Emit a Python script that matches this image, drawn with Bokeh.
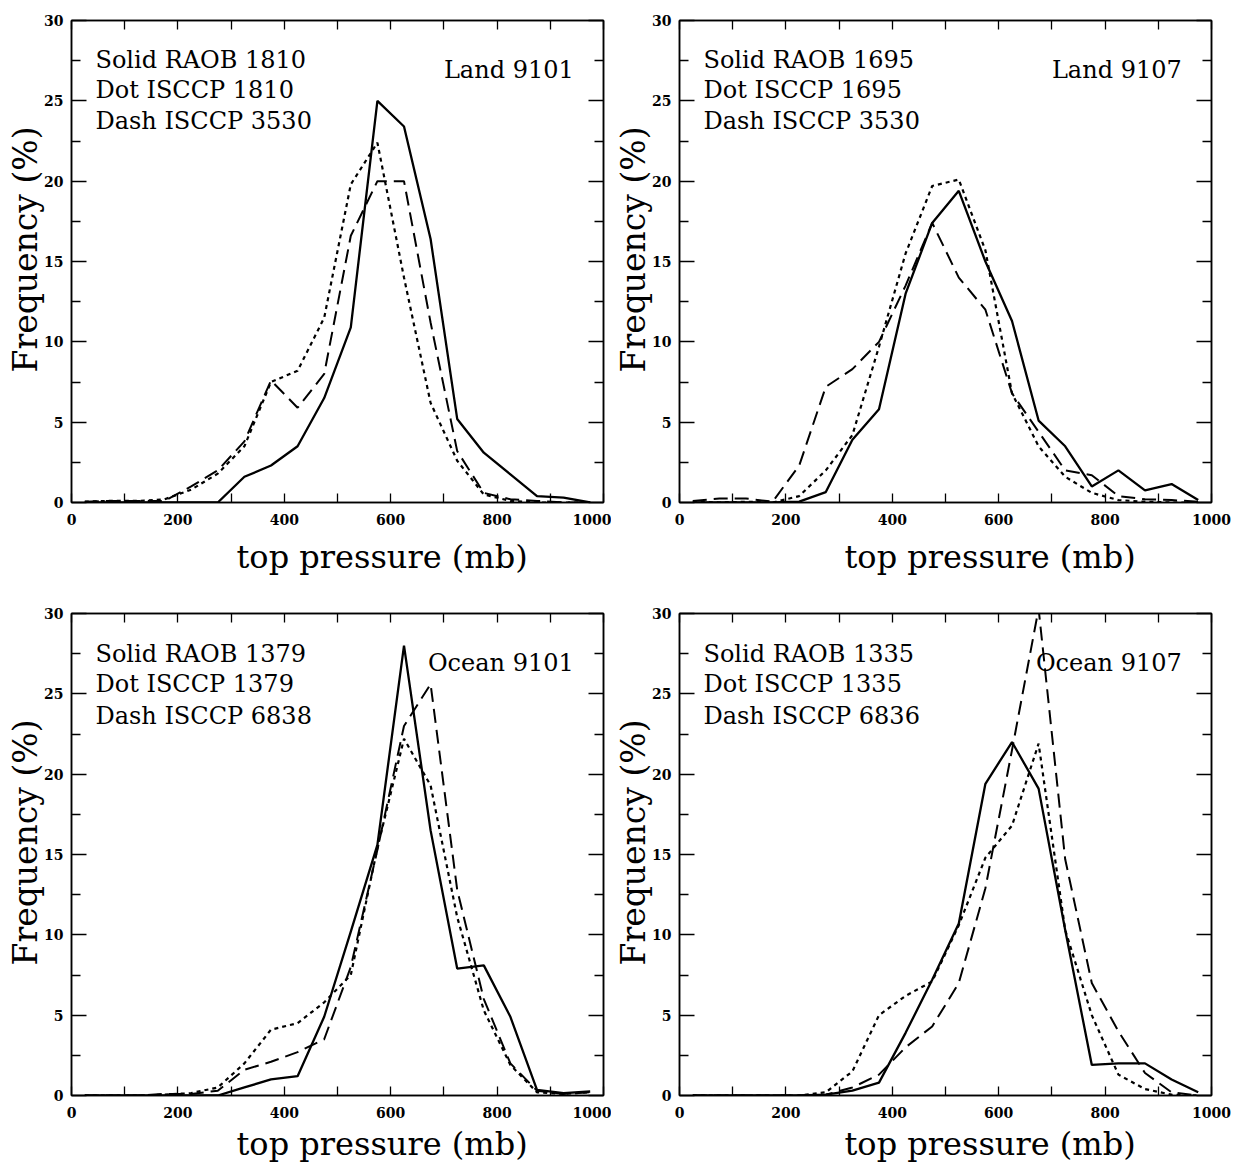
from bokeh.plotting import figure
from bokeh.layouts import column, row
from bokeh.models import LinearAxis, FixedTicker, Label, Range1d, Title
from bokeh.embed import file_html
from bokeh.resources import INLINE

# ---------------- data ----------------
pressure = [25, 75, 125, 175, 225, 275, 325, 375, 425, 475,
            525, 575, 625, 675, 725, 775, 825, 875, 925, 975]

x_ticks = [0, 100, 200, 300, 400, 500, 600, 700, 800, 900, 1000]
x_tick_labels = ["0", "", "200", "", "400", "", "600", "", "800", "", "1000"]
y_major = [0, 5, 10, 15, 20, 25, 30]
y_minor = [2.5, 7.5, 12.5, 17.5, 22.5, 27.5]

# Land 9101
land9101_raob = [0, 0, 0, 0, 0, 0, 1.6, 2.3, 3.5, 6.5, 10.9, 25.0, 23.4, 16.4, 5.2, 3.1, 1.75, 0.4, 0.3, 0.0]
land9101_isccp = [0.05, 0.1, 0.1, 0.2, 0.8, 1.8, 3.5, 7.5, 8.2, 11.5, 19.8, 22.4, 14.0, 6.2, 2.6, 0.5, 0.1, 0.0, 0.0, 0.0]
land9101_all = [0.05, 0.1, 0.1, 0.1, 1.0, 2.0, 3.8, 7.6, 5.9, 8.0, 16.6, 20.0, 20.0, 11.2, 3.2, 0.6, 0.2, 0.1, 0.0, 0.0]

# Land 9107
land9107_raob = [0, 0, 0, 0, 0.05, 0.65, 3.9, 5.8, 13.0, 17.4, 19.4, 15.0, 11.3, 5.1, 3.5, 1.0, 2.0, 0.75, 1.15, 0.15]
land9107_isccp = [0.05, 0.0, 0.05, 0.0, 0.4, 2.0, 4.2, 9.7, 15.5, 19.7, 20.1, 15.7, 6.8, 3.5, 1.6, 0.6, 0.15, 0.05, 0.0, 0.0]
land9107_all = [0.1, 0.25, 0.25, 0.05, 2.3, 7.2, 8.3, 10.0, 13.5, 17.4, 14.0, 12.0, 6.8, 4.4, 2.0, 1.7, 0.4, 0.2, 0.15, 0.05]

# Ocean 9101
ocean9101_raob = [0, 0, 0, 0, 0, 0, 0.5, 1.0, 1.2, 4.9, 10.2, 15.6, 28.0, 16.5, 7.9, 8.1, 4.9, 0.35, 0.15, 0.25]
ocean9101_isccp = [0, 0, 0, 0.05, 0.15, 0.5, 2.0, 4.1, 4.5, 5.8, 7.5, 15.4, 22.2, 19.3, 11.1, 5.3, 1.9, 0.2, 0.1, 0.2]
ocean9101_all = [0, 0, 0, 0.1, 0.1, 0.3, 1.6, 2.1, 2.7, 3.5, 8.0, 15.3, 23.0, 25.6, 12.8, 6.0, 2.0, 0.3, 0.1, 0.2]

# Ocean 9107
ocean9107_raob = [0, 0, 0, 0, 0, 0.05, 0.3, 0.8, 3.9, 7.2, 10.7, 19.4, 22.0, 19.1, 10.3, 1.9, 2.0, 2.0, 1.0, 0.2]
ocean9107_isccp = [0, 0, 0, 0, 0, 0.2, 1.5, 5.0, 6.2, 7.1, 10.6, 14.8, 16.8, 21.9, 10.3, 5.0, 1.3, 0.4, 0.05, 0]
ocean9107_all = [0, 0, 0, 0, 0, 0.05, 0.5, 1.3, 3.0, 4.3, 7.0, 12.9, 21.5, 30.3, 14.7, 7.0, 4.0, 1.4, 0.2, 0.0]

land9101_text = ["Solid RAOB 1810", "Dot ISCCP 1810", "Dash ISCCP 3530"]
land9107_text = ["Solid RAOB 1695", "Dot ISCCP 1695", "Dash ISCCP 3530"]
ocean9101_text = ["Solid RAOB 1379", "Dot ISCCP 1379", "Dash ISCCP 6838"]
ocean9107_text = ["Solid RAOB 1335", "Dot ISCCP 1335", "Dash ISCCP 6836"]
region_titles = ["Land 9101", "Land 9107", "Ocean 9101", "Ocean 9107"]

x_title = "top pressure (mb)"
y_title = "Frequency (%)"

SERIF = "DejaVu Serif"


def style_axis(ax, ticks, minor, tick_len, minor_len, show_labels, overrides=None):
    ax.ticker = FixedTicker(ticks=ticks, minor_ticks=minor)
    ax.major_tick_in = tick_len
    ax.major_tick_out = 0
    ax.minor_tick_in = minor_len
    ax.minor_tick_out = 0
    ax.major_tick_line_color = "black"
    ax.minor_tick_line_color = "black"
    ax.major_tick_line_width = 1.3
    ax.minor_tick_line_width = 1.3
    ax.axis_line_color = "black"
    ax.axis_line_width = 1.5
    if show_labels:
        ax.major_label_text_font = SERIF
        ax.major_label_text_font_style = "bold"
        ax.major_label_text_font_size = "14px"
        ax.major_label_text_color = "black"
        if overrides:
            ax.major_label_overrides = overrides
    else:
        ax.major_label_text_font_size = "1px"
        ax.major_label_text_color = None
        ax.major_label_standoff = 0


def make_panel(raob, isccp, allc, texts, region, left_col, top_row):
    p = figure(
        frame_width=532, frame_height=482,
        x_range=Range1d(0, 1000), y_range=Range1d(0, 30),
        output_backend="svg", toolbar_location=None,
        min_border_left=71 if left_col else 68,
        min_border_right=8 if left_col else 21,
        min_border_top=20 if top_row else 28,
        min_border_bottom=83 if top_row else 0,
        background_fill_color="white", border_fill_color="white",
    )
    p.grid.visible = False
    p.outline_line_color = "black"
    p.outline_line_width = 1.5

    x_over = {t: lab for t, lab in zip(x_ticks, x_tick_labels)}
    style_axis(p.xaxis[0], x_ticks, [], 9, 0, True, x_over)
    style_axis(p.yaxis[0], y_major, y_minor, 15, 9, True)
    p.xaxis[0].major_label_standoff = 11
    p.yaxis[0].major_label_standoff = 8

    top = LinearAxis()
    style_axis(top, x_ticks, [], 9, 0, False)
    p.add_layout(top, "above")
    right = LinearAxis()
    style_axis(right, y_major, y_minor, 15, 9, False)
    p.add_layout(right, "right")

    # axis titles, placed off-centre like the original
    p.add_layout(Title(text=x_title, align="left", offset=165,
                       standoff=18 if top_row else 6,
                       vertical_align="middle",
                       text_font=SERIF, text_font_size="32px", text_font_style="normal",
                       text_color="black"), "below")
    p.add_layout(Title(text=y_title, align="left", offset=130, standoff=-8,
                       vertical_align="middle",
                       text_font=SERIF, text_font_size="33px", text_font_style="normal",
                       text_color="black"), "left")

    p.line(pressure, raob, line_color="black", line_width=2.3)
    p.line(pressure, isccp, line_color="black", line_width=2.2, line_dash="4 4")
    p.line(pressure, allc, line_color="black", line_width=2.0, line_dash="14 7")

    ys = [27.55, 25.65, 23.75] if top_row else [27.5, 25.6, 23.65]
    for t, yy in zip(texts, ys):
        p.add_layout(Label(x=45, y=yy, text=t, text_font=SERIF, text_font_size="24px",
                           text_baseline="middle", text_align="left", text_color="black"))
    p.add_layout(Label(x=944, y=26.9, text=region, text_font=SERIF, text_font_size="24px",
                       text_baseline="middle", text_align="right", text_color="black"))
    return p


p1 = make_panel(land9101_raob, land9101_isccp, land9101_all, land9101_text, region_titles[0], True, True)
p2 = make_panel(land9107_raob, land9107_isccp, land9107_all, land9107_text, region_titles[1], False, True)
p3 = make_panel(ocean9101_raob, ocean9101_isccp, ocean9101_all, ocean9101_text, region_titles[2], True, False)
p4 = make_panel(ocean9107_raob, ocean9107_isccp, ocean9107_all, ocean9107_text, region_titles[3], False, False)

layout = column(row(p1, p2), row(p3, p4))

open("out.html", "w").write(file_html(layout, INLINE))
